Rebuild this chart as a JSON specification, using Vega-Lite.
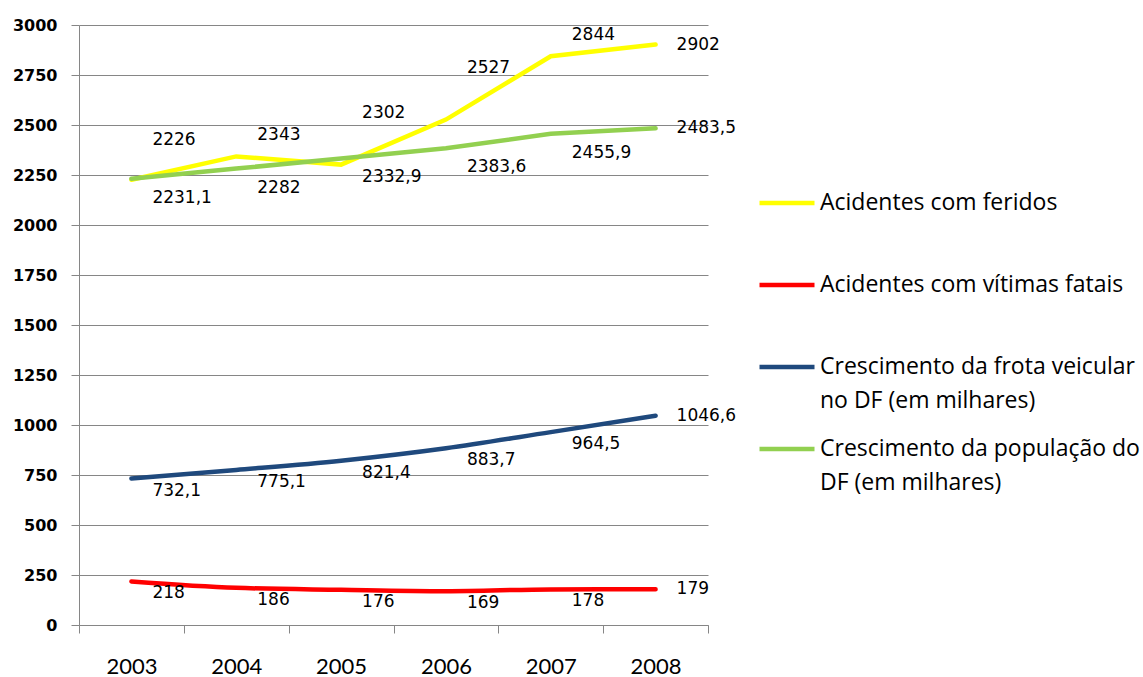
{
  "$schema": "https://vega.github.io/schema/vega-lite/v6.json",
  "width": 629,
  "height": 600,
  "autosize": {"type": "none"},
  "padding": {"left": 79, "top": 25, "right": 435, "bottom": 52},
  "background": "white",
  "config": {
    "view": {"stroke": null},
    "style": {"guide-label": {"lineHeight": 34}}
  },
  "data": {
    "values": [
      {"ano": "2003", "serie": "Acidentes com feridos", "valor": 2226},
      {"ano": "2004", "serie": "Acidentes com feridos", "valor": 2343},
      {"ano": "2005", "serie": "Acidentes com feridos", "valor": 2302},
      {"ano": "2006", "serie": "Acidentes com feridos", "valor": 2527},
      {"ano": "2007", "serie": "Acidentes com feridos", "valor": 2844},
      {"ano": "2008", "serie": "Acidentes com feridos", "valor": 2902},
      {"ano": "2003", "serie": "Acidentes com vítimas fatais", "valor": 218},
      {"ano": "2004", "serie": "Acidentes com vítimas fatais", "valor": 186},
      {"ano": "2005", "serie": "Acidentes com vítimas fatais", "valor": 176},
      {"ano": "2006", "serie": "Acidentes com vítimas fatais", "valor": 169},
      {"ano": "2007", "serie": "Acidentes com vítimas fatais", "valor": 178},
      {"ano": "2008", "serie": "Acidentes com vítimas fatais", "valor": 179},
      {"ano": "2003", "serie": "Crescimento da frota veicular no DF (em milhares)", "valor": 732.1},
      {"ano": "2004", "serie": "Crescimento da frota veicular no DF (em milhares)", "valor": 775.1},
      {"ano": "2005", "serie": "Crescimento da frota veicular no DF (em milhares)", "valor": 821.4},
      {"ano": "2006", "serie": "Crescimento da frota veicular no DF (em milhares)", "valor": 883.7},
      {"ano": "2007", "serie": "Crescimento da frota veicular no DF (em milhares)", "valor": 964.5},
      {"ano": "2008", "serie": "Crescimento da frota veicular no DF (em milhares)", "valor": 1046.6},
      {"ano": "2003", "serie": "Crescimento da população do DF (em milhares)", "valor": 2231.1},
      {"ano": "2004", "serie": "Crescimento da população do DF (em milhares)", "valor": 2282},
      {"ano": "2005", "serie": "Crescimento da população do DF (em milhares)", "valor": 2332.9},
      {"ano": "2006", "serie": "Crescimento da população do DF (em milhares)", "valor": 2383.6},
      {"ano": "2007", "serie": "Crescimento da população do DF (em milhares)", "valor": 2455.9},
      {"ano": "2008", "serie": "Crescimento da população do DF (em milhares)", "valor": 2483.5}
    ]
  },
  "transform": [
    {"calculate": "replace(toString(datum.valor), '.', ',')", "as": "rotulo"}
  ],
  "encoding": {
    "x": {
      "field": "ano",
      "type": "ordinal",
      "scale": {"type": "band", "paddingInner": 0, "paddingOuter": 0},
      "axis": {
        "title": null,
        "labelAngle": 0,
        "tickBand": "extent",
        "grid": false,
        "domainColor": "#868686",
        "tickColor": "#868686",
        "tickSize": 8,
        "labelPadding": 23,
        "labelFont": "Lato",
        "labelFontSize": 22,
        "labelColor": "black"
      }
    },
    "y": {
      "field": "valor",
      "type": "quantitative",
      "scale": {"domain": [0, 3000], "nice": false},
      "axis": {
        "title": null,
        "values": [0, 250, 500, 750, 1000, 1250, 1500, 1750, 2000, 2250, 2500, 2750, 3000],
        "format": "d",
        "grid": true,
        "gridColor": "#868686",
        "domainColor": "#868686",
        "tickColor": "#868686",
        "tickSize": 8,
        "labelPadding": 14,
        "labelFont": "DejaVu Sans",
        "labelFontWeight": "bold",
        "labelFontSize": 16,
        "labelColor": "black"
      }
    }
  },
  "layer": [
    {
      "transform": [{"filter": "datum.serie == 'Acidentes com feridos' || datum.serie == 'Crescimento da população do DF (em milhares)'"}],
      "mark": {"type": "line", "strokeWidth": 4.5, "strokeCap": "round", "interpolate": "linear"},
      "encoding": {
        "color": {
          "field": "serie",
          "type": "nominal",
          "scale": {
            "domain": ["Acidentes com feridos", "Acidentes com vítimas fatais", "Crescimento da frota veicular no DF (em milhares)", "Crescimento da população do DF (em milhares)"],
            "range": ["#FFFF00", "#FF0000", "#1F497D", "#92D050"]
          },
          "legend": {
            "title": null,
            "orient": "none",
            "legendX": 678,
            "legendY": 148,
            "padding": 0,
            "symbolType": "stroke",
            "symbolSize": 3025,
            "symbolStrokeWidth": 4.5,
            "labelFont": "Open Sans",
            "labelFontSize": 23,
            "labelColor": "black",
            "labelBaseline": "middle",
            "labelOffset": 3,
            "labelLimit": 400,
            "gridAlign": "all",
            "rowPadding": 6,
            "labelExpr": "datum.label == 'Crescimento da frota veicular no DF (em milhares)' ? ['Crescimento da frota veicular', 'no DF (em milhares)'] : datum.label == 'Crescimento da população do DF (em milhares)' ? ['Crescimento da população do', 'DF (em milhares)'] : datum.label"
          }
        }
      }
    },
    {
      "transform": [{"filter": "datum.serie == 'Acidentes com vítimas fatais' || datum.serie == 'Crescimento da frota veicular no DF (em milhares)'"}],
      "mark": {"type": "line", "strokeWidth": 4.5, "strokeCap": "round", "interpolate": "monotone"},
      "encoding": {
        "color": {
          "field": "serie",
          "type": "nominal",
          "scale": {
            "domain": ["Acidentes com feridos", "Acidentes com vítimas fatais", "Crescimento da frota veicular no DF (em milhares)", "Crescimento da população do DF (em milhares)"],
            "range": ["#FFFF00", "#FF0000", "#1F497D", "#92D050"]
          },
          "legend": {
            "title": null,
            "orient": "none",
            "legendX": 678,
            "legendY": 148,
            "padding": 0,
            "symbolType": "stroke",
            "symbolSize": 3025,
            "symbolStrokeWidth": 4.5,
            "labelFont": "Open Sans",
            "labelFontSize": 23,
            "labelColor": "black",
            "labelBaseline": "middle",
            "labelOffset": 3,
            "labelLimit": 400,
            "gridAlign": "all",
            "rowPadding": 6,
            "labelExpr": "datum.label == 'Crescimento da frota veicular no DF (em milhares)' ? ['Crescimento da frota veicular', 'no DF (em milhares)'] : datum.label == 'Crescimento da população do DF (em milhares)' ? ['Crescimento da população do', 'DF (em milhares)'] : datum.label"
          }
        }
      }
    },
    {
      "transform": [{"filter": "datum.serie == 'Acidentes com feridos' && (datum.ano == '2004' || datum.ano == '2007')"}],
      "mark": {"type": "text", "align": "left", "baseline": "middle", "dx": 21, "dy": -21, "font": "DejaVu Sans", "fontSize": 17, "color": "black"},
      "encoding": {"text": {"field": "rotulo"}}
    },
    {
      "transform": [{"filter": "datum.serie == 'Acidentes com feridos' && datum.ano == '2003'"}],
      "mark": {"type": "text", "align": "left", "baseline": "middle", "dx": 21, "dy": -40, "font": "DejaVu Sans", "fontSize": 17, "color": "black"},
      "encoding": {"text": {"field": "rotulo"}}
    },
    {
      "transform": [{"filter": "datum.serie == 'Acidentes com feridos' && (datum.ano == '2005' || datum.ano == '2006')"}],
      "mark": {"type": "text", "align": "left", "baseline": "middle", "dx": 21, "dy": -52, "font": "DejaVu Sans", "fontSize": 17, "color": "black"},
      "encoding": {"text": {"field": "rotulo"}}
    },
    {
      "transform": [{"filter": "datum.serie == 'Crescimento da população do DF (em milhares)' && datum.ano != '2008'"}],
      "mark": {"type": "text", "align": "left", "baseline": "middle", "dx": 21, "dy": 19, "font": "DejaVu Sans", "fontSize": 17, "color": "black"},
      "encoding": {"text": {"field": "rotulo"}}
    },
    {
      "transform": [{"filter": "(datum.serie == 'Acidentes com vítimas fatais' || datum.serie == 'Crescimento da frota veicular no DF (em milhares)') && datum.ano != '2008'"}],
      "mark": {"type": "text", "align": "left", "baseline": "middle", "dx": 21, "dy": 12, "font": "DejaVu Sans", "fontSize": 17, "color": "black"},
      "encoding": {"text": {"field": "rotulo"}}
    },
    {
      "transform": [{"filter": "datum.ano == '2008'"}],
      "mark": {"type": "text", "align": "left", "baseline": "middle", "dx": 21, "dy": 0, "font": "DejaVu Sans", "fontSize": 17, "color": "black"},
      "encoding": {"text": {"field": "rotulo"}}
    }
  ]
}
